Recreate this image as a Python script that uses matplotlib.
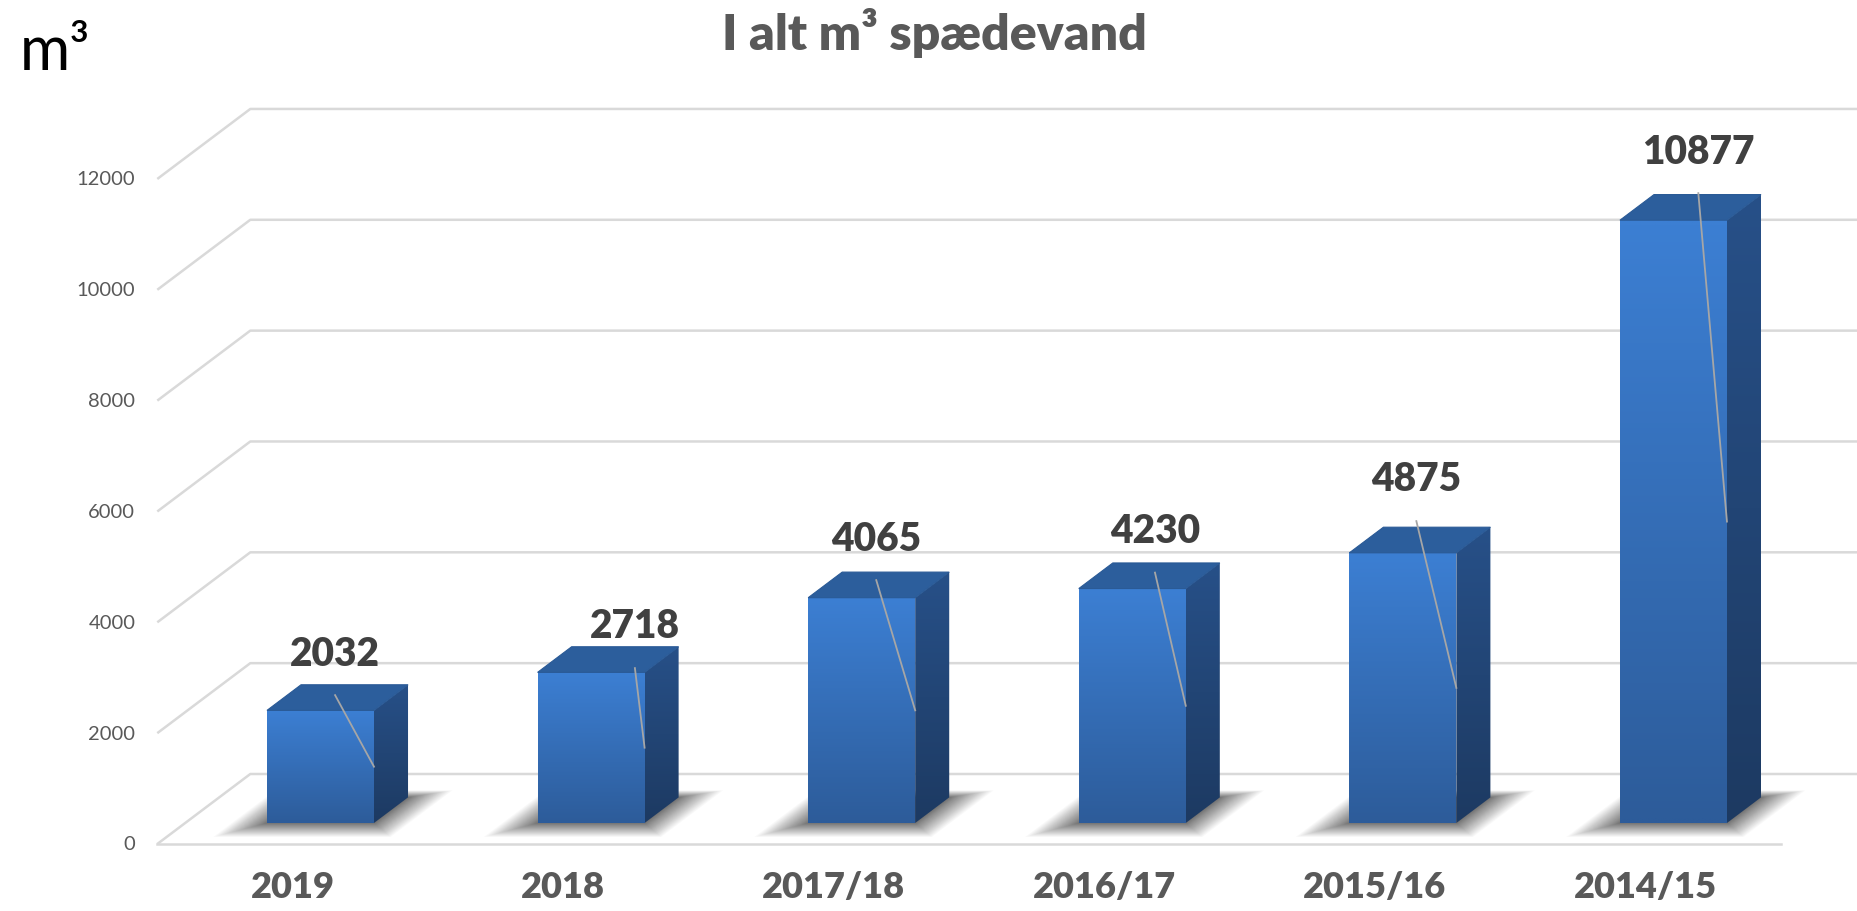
import numpy as np
import matplotlib
matplotlib.use("Agg")
import matplotlib.pyplot as plt
from matplotlib.patches import Polygon

# data
categories = ["2019", "2018", "2017/18", "2016/17", "2015/16", "2014/15"]
values = [2032, 2718, 4065, 4230, 4875, 10877]
y_ticks = [0, 2000, 4000, 6000, 8000, 10000, 12000]

# where the (hand-moved) value labels sit: x offset from category, y in value units
label_dx = [0.157, 0.265, 0.157, 0.187, 0.153, 0.195]
label_y = [3446, 3934, 5521, 5657, 6586, 12504]

# fake 3d geometry
DX = 0.3437      # depth shift in category units
DV = 1263        # depth shift in value units
Z0, Z1 = 0.30, 0.666
HW = 0.1977      # half bar width

GRID = "#d9d9d9"
TXT = "#595959"
FONT = ["Lato", "DejaVu Sans"]


def proj(x, v, z):
    return (x + z * DX, v + z * DV)


def vgrad(top, bottom, n=64):
    t = np.linspace(0, 1, n)[:, None]
    a = np.array(matplotlib.colors.to_rgb(top))
    b = np.array(matplotlib.colors.to_rgb(bottom))
    return (a * (1 - t) + b * t)[:, None, :]


fig = plt.figure(figsize=(18.57, 9.12), dpi=100)
ax = fig.add_axes([0, 0, 1, 1])
ax.axis("off")

# walls and floor
x_left, x_right = -0.5, len(categories) - 0.5
for v in y_ticks:
    a = proj(x_left, v, 0)
    b = proj(x_left, v, 1)
    c = proj(x_right + 0.2, v, 1)
    ax.plot([a[0], b[0], c[0]], [a[1], b[1], c[1]], color=GRID, lw=1.8,
            solid_capstyle="butt", zorder=1)
    ax.annotate(str(v), xy=a, xytext=(-22, 0), textcoords="offset pixels",
                ha="right", va="center", fontsize=14.5, color=TXT, family=FONT)
a = proj(x_left, 0, 0)
b = proj(x_right, 0, 0)
ax.plot([a[0], b[0]], [a[1], b[1]], color=GRID, lw=1.8, zorder=1)

for i, (cat, val) in enumerate(zip(categories, values)):
    # soft shadow on the floor, stacked layers to fake a blur
    n = 30
    for k in range(n):
        e = (1 - k / n) ** 1.3
        xa = i - HW - 0.13 * e
        xb = i + HW + 0.13 * e
        za = Z0 - 0.20 * e
        zb = Z1 + 0.10 * e
        pts = [proj(xa, 0, za), proj(xb, 0, za), proj(xb, 0, zb), proj(xa, 0, zb)]
        ax.add_patch(Polygon(pts, closed=True, facecolor="black", edgecolor="none",
                             alpha=0.024, zorder=2))

    # front face
    fx0, fy0 = proj(i - HW, 0, Z0)
    fx1, fy1 = proj(i + HW, val, Z0)
    ax.imshow(vgrad("#3c7fd3", "#2d5c9a"), extent=[fx0, fx1, fy0, fy1],
              aspect="auto", origin="upper", zorder=4, interpolation="bilinear")

    # right side face
    side = [proj(i + HW, 0, Z0), proj(i + HW, val, Z0),
            proj(i + HW, val, Z1), proj(i + HW, 0, Z1)]
    sp = Polygon(side, closed=True, facecolor="none", edgecolor="none")
    ax.add_patch(sp)
    sx = [p[0] for p in side]
    sy = [p[1] for p in side]
    im = ax.imshow(vgrad("#275088", "#1d3a62"), extent=[min(sx), max(sx), min(sy), max(sy)],
                   aspect="auto", origin="upper", zorder=4, interpolation="bilinear")
    im.set_clip_path(sp)

    # top face
    top = [proj(i - HW, val, Z0), proj(i + HW, val, Z0),
           proj(i + HW, val, Z1), proj(i - HW, val, Z1)]
    ax.add_patch(Polygon(top, closed=True, facecolor="#2c5e9c", edgecolor="#2a5a96",
                         lw=0.8, zorder=5))

    # value label with leader line
    lx = i + label_dx[i]
    ly = label_y[i]
    ax.text(lx, ly, str(val), ha="center", va="center", fontsize=28,
            fontweight="heavy", color="#404040", family=FONT, zorder=11)
    end = proj(i + HW, val / 2, Z0)
    ax.plot([lx, end[0]], [ly - 760, end[1]], color="#a6a6a6", lw=1.3, zorder=10)

    # category label
    ax.annotate(cat, xy=(i, 0), xytext=(0, -43), textcoords="offset pixels",
                ha="center", va="center", fontsize=26, fontweight="heavy",
                color=TXT, family=FONT)

ax.set_xlim(-1.0813, 5.7814)
ax.set_ylim(-1209, 15247)

fig.text(934 / 1857, 1 - 50 / 912, "I alt m³ spædevand", ha="center", va="baseline",
         fontsize=36, fontweight="heavy", color=TXT, family=FONT)
fig.text(20 / 1857, 1 - 70 / 912, "m³", ha="left", va="baseline",
         fontsize=44, color="black", family=FONT)

fig.savefig("out.png", dpi=100, facecolor="white")
